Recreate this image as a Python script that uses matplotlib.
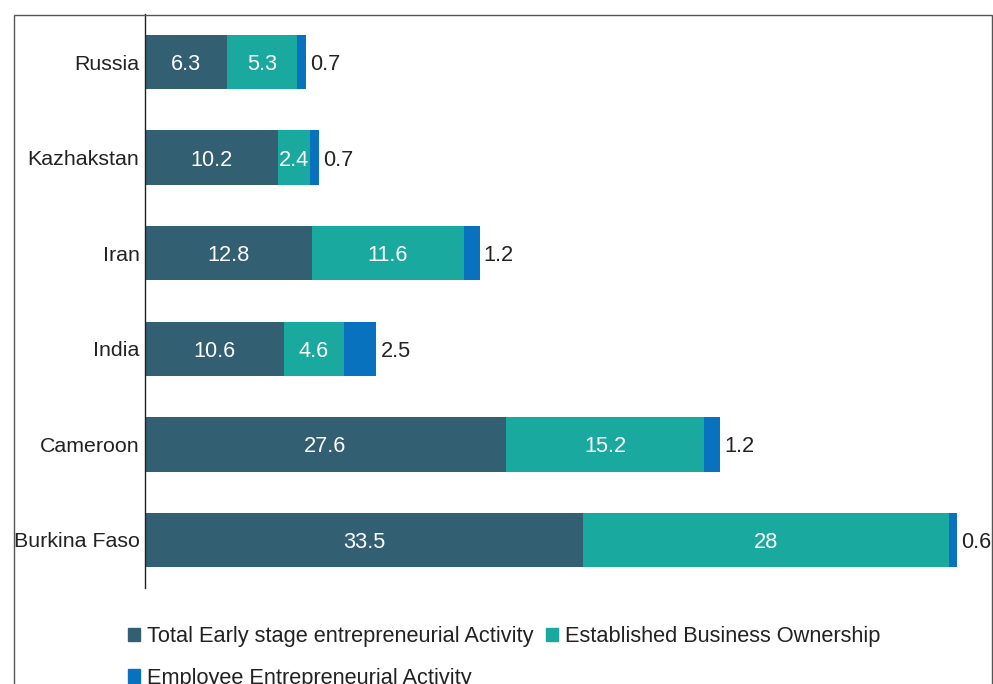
import matplotlib.pyplot as plt
from matplotlib.patches import Patch, Rectangle

plt.rcParams['font.family'] = ['Liberation Sans', 'DejaVu Sans']

# Entrepreneurial activity by country (% of adult population)
countries = ['Russia', 'Kazhakstan', 'Iran', 'India', 'Cameroon', 'Burkina Faso']
tea = [6.3, 10.2, 12.8, 10.6, 27.6, 33.5]
ebo = [5.3, 2.4, 11.6, 4.6, 15.2, 28]
eea = [0.7, 0.7, 1.2, 2.5, 1.2, 0.6]

series_names = ['Total Early stage entrepreneurial Activity',
                'Established Business Ownership',
                'Employee Entrepreneurial Activity']
colors = ['#335f73', '#1aa99f', '#0872bf']
FS = 15.7

fig = plt.figure(figsize=(9.93, 6.84), dpi=100)
ax = fig.add_axes([0.146, 0.1408, 0.853, 0.8383])

# outer frame (runs off the bottom of the figure)
frame = Rectangle((14 / 993, -0.2), (992 - 14) / 993, 1.2 - 15 / 684,
                  transform=fig.transFigure, fill=False, edgecolor='#555555',
                  linewidth=1.0, clip_on=False)
fig.patches.append(frame)

y = list(range(len(countries)))
h = 0.57
ax.barh(y, tea, height=h, color=colors[0])
ax.barh(y, ebo, left=tea, height=h, color=colors[1])
left3 = [a + b for a, b in zip(tea, ebo)]
ax.barh(y, eea, left=left3, height=h, color=colors[2])

for i in y:
    ax.text(tea[i] / 2, i, f'{tea[i]:g}', ha='center', va='center_baseline',
            color='white', fontsize=FS)
    ax.text(tea[i] + ebo[i] / 2, i, f'{ebo[i]:g}', ha='center',
            va='center_baseline', color='white', fontsize=FS)
    ax.annotate(f'{eea[i]:g}', xy=(left3[i] + eea[i], i), xytext=(3, 0),
                textcoords='offset points', ha='left', va='center_baseline',
                color='#222222', fontsize=FS, annotation_clip=False)

ax.set_ylim(len(countries) - 0.5, -0.5)
ax.set_xlim(0, 64.8)
ax.set_yticks(y)
ax.set_yticklabels(countries, fontsize=15.4, color='#222222')
ax.tick_params(axis='y', length=0, pad=4)
ax.set_xticks([])
for s in ['top', 'right', 'bottom']:
    ax.spines[s].set_visible(False)
ax.spines['left'].set_color('#222222')
ax.spines['left'].set_linewidth(1.0)

# legend: reorder so the rows read Total / Established, then Employee
handles = [Patch(color=c) for c in colors]
order = [0, 2, 1]
fig.legend([handles[k] for k in order], [series_names[k] for k in order],
           ncol=2, loc='upper left', bbox_to_anchor=(128 / 993, 1 - 626 / 684),
           frameon=False, fontsize=FS, handlelength=0.55, handleheight=0.55,
           handletextpad=0.3, columnspacing=0.6, labelspacing=0.95,
           borderpad=0, borderaxespad=0, labelcolor='#222222')

fig.savefig('out.png', dpi=100)
